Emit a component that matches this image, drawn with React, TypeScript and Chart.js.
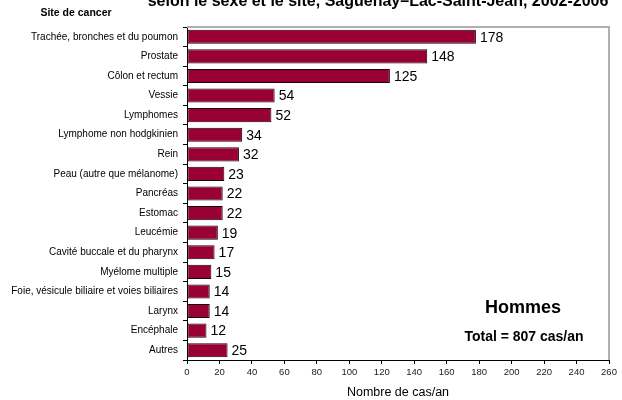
import React, { useEffect, useRef } from "react";
import { Chart, registerables } from "chart.js";

Chart.register(...registerables);

const categories = [
  "Trachée, bronches et du poumon",
  "Prostate",
  "Côlon et rectum",
  "Vessie",
  "Lymphomes",
  "Lymphome non hodgkinien",
  "Rein",
  "Peau (autre que mélanome)",
  "Pancréas",
  "Estomac",
  "Leucémie",
  "Cavité buccale et du pharynx",
  "Myélome multiple",
  "Foie, vésicule biliaire et voies biliaires",
  "Larynx",
  "Encéphale",
  "Autres",
];
const values = [178, 148, 125, 54, 52, 34, 32, 23, 22, 22, 19, 17, 15, 14, 14, 12, 25];
const xMin = 0;
const xMax = 260;
const xStep = 20;

const titleText = "selon le sexe et le site, Saguenay–Lac-Saint-Jean, 2002-2006";
const yAxisTitle = "Site de cancer";
const xAxisTitle = "Nombre de cas/an";
const sexLabel = "Hommes";
const totalLabel = "Total = 807 cas/an";

const FONT = "'Liberation Sans', Arial, sans-serif";

const decorPlugin = {
  id: "decor",
  afterDatasetsDraw(chart: any) {
    const ctx = chart.ctx;
    const ca = chart.chartArea;
    ctx.save();
    // gray top/right border
    ctx.strokeStyle = "#b0b0b0";
    ctx.lineWidth = 2;
    ctx.beginPath();
    ctx.moveTo(ca.left, ca.top);
    ctx.lineTo(ca.right, ca.top);
    ctx.lineTo(ca.right, ca.bottom);
    ctx.stroke();

    // data labels
    const meta = chart.getDatasetMeta(0);
    ctx.fillStyle = "#000";
    ctx.font = `14px ${FONT}`;
    ctx.textAlign = "left";
    ctx.textBaseline = "middle";
    meta.data.forEach((bar: any, i: number) => {
      ctx.fillText(String(values[i]), bar.x + 4, bar.y + 1);
    });

    // texts
    ctx.textAlign = "center";
    ctx.textBaseline = "alphabetic";
    ctx.font = `bold 16px ${FONT}`;
    ctx.fillText(titleText, 378, 6);
    ctx.font = `bold 10.5px ${FONT}`;
    ctx.fillText(yAxisTitle, 76, 16);
    ctx.font = `bold 18px ${FONT}`;
    ctx.fillText(sexLabel, 523, 313);
    ctx.font = `bold 14px ${FONT}`;
    ctx.fillText(totalLabel, 524, 341);
    ctx.font = `12.5px ${FONT}`;
    ctx.fillText(xAxisTitle, 398, 396);
    ctx.restore();
  },
};

export default function App() {
  const ref = useRef<HTMLCanvasElement | null>(null);
  useEffect(() => {
    document.body.style.margin = "0";
    const chart = new Chart(ref.current as HTMLCanvasElement, {
      type: "bar",
      data: {
        labels: categories,
        datasets: [
          {
            data: values,
            backgroundColor: "#990033",
            borderColor: "#1a0008",
            borderWidth: 1,
            borderSkipped: false,
            categoryPercentage: 1,
            barPercentage: 0.72,
          },
        ],
      },
      options: {
        indexAxis: "y",
        animation: false,
        responsive: false,
        maintainAspectRatio: false,
        layout: { padding: { left: 0, right: 13, top: 27, bottom: 0 } },
        plugins: { legend: { display: false }, tooltip: { enabled: false }, title: { display: false } },
        scales: {
          x: {
            type: "linear",
            min: xMin,
            max: xMax,
            ticks: { stepSize: xStep, color: "#222", font: { family: FONT, size: 9.5 }, padding: 3, maxRotation: 0 },
            grid: { display: true, drawOnChartArea: false, tickLength: 4, color: "#000" },
            border: { display: true, color: "#000", width: 1 },
            afterFit: (s: any) => {
              s.height = 40;
            },
          },
          y: {
            type: "category",
            ticks: { color: "#000", font: { family: FONT, size: 10 }, padding: 5, autoSkip: false },
            grid: { display: true, drawOnChartArea: false, tickLength: 4, color: "#000", offset: true },
            border: { display: true, color: "#000", width: 1 },
            afterFit: (s: any) => {
              s.width = 187;
            },
          },
        },
      },
      plugins: [decorPlugin],
    } as any);
    return () => chart.destroy();
  }, []);
  return <canvas ref={ref} width={622} height={400} style={{ display: "block" }} />;
}
